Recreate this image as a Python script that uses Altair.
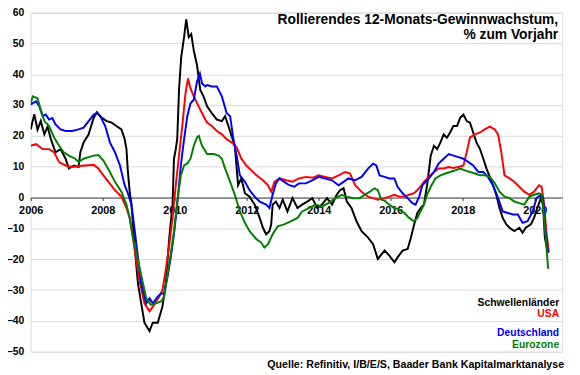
import altair as alt
import pandas as pd

FONT = "Liberation Sans"

series_names = ["Schwellenländer", "USA", "Deutschland", "Eurozone"]
series_colors = ["#000000", "#ff0000", "#0000ff", "#008000"]

em_years = [2006.00, 2006.10, 2006.19, 2006.28, 2006.38, 2006.47, 2006.56, 2006.69, 2006.83, 2006.97,
            2007.06, 2007.20, 2007.33, 2007.38, 2007.47, 2007.61, 2007.75, 2007.84, 2007.97, 2008.11,
            2008.25, 2008.38, 2008.52, 2008.61, 2008.66, 2008.70, 2008.75, 2008.80, 2008.84, 2008.89,
            2008.93, 2008.98, 2009.07, 2009.16, 2009.30, 2009.39, 2009.53, 2009.66, 2009.75, 2009.85,
            2009.94, 2009.98, 2010.03, 2010.07, 2010.12, 2010.18, 2010.26, 2010.32, 2010.39, 2010.46,
            2010.53, 2010.62, 2010.71, 2010.80,
            2010.90, 2011.03, 2011.17, 2011.31, 2011.40, 2011.49, 2011.58, 2011.67, 2011.76, 2011.85,
            2011.95, 2012.08, 2012.22, 2012.36, 2012.45, 2012.54, 2012.63, 2012.68, 2012.72, 2012.81,
            2012.91, 2013.00, 2013.13, 2013.27, 2013.41, 2013.54, 2013.68, 2013.82, 2013.96, 2014.09,
            2014.23, 2014.37, 2014.50, 2014.59, 2014.69, 2014.78, 2014.91, 2015.05, 2015.19, 2015.37,
            2015.51, 2015.64,
            2015.83, 2015.96, 2016.10, 2016.19, 2016.33, 2016.47, 2016.56, 2016.65, 2016.74, 2016.83,
            2016.92, 2017.01, 2017.11, 2017.20, 2017.29, 2017.38, 2017.47, 2017.56, 2017.65, 2017.74,
            2017.84, 2017.93, 2018.02, 2018.11, 2018.20, 2018.29, 2018.38, 2018.48, 2018.57, 2018.66,
            2018.75, 2018.84, 2018.93, 2019.02, 2019.11, 2019.21, 2019.30, 2019.43, 2019.57, 2019.66,
            2019.75, 2019.89, 2019.98, 2020.07, 2020.17, 2020.23, 2020.28, 2020.35, 2020.39]
em_values = [22.1, 27.0, 22.0, 24.8, 20.5, 23.0, 19.0, 14.7, 15.7, 12.6,
             9.4, 10.4, 9.9, 14.7, 17.9, 20.5, 25.9, 27.7, 25.9, 24.8,
             24.3, 23.2, 22.1, 19.0, 15.7, 8.3, 1.9, -2.3, -8.7, -16.2,
             -21.5, -27.9, -34.3, -40.6, -43.3, -40.6, -40.6, -35.3, -27.9, -13.0,
             -2.3, 12.6, 15.7, 19.0, 34.9, 45.5, 52.0, 57.8, 52.0, 53.0,
             47.7, 42.9, 34.9, 32.8,
             29.6, 27.4, 25.3, 24.8, 26.4, 23.2, 20.0, 16.8, 4.0, 6.2,
             1.4, 0.3, -2.3, -6.6, -9.8, -11.9, -10.9, -8.7, -2.3, -1.3,
             -3.4, -0.7, -4.5, -0.2, -3.4, -2.3, -1.3, -0.2, -3.4, -2.3,
             -0.2, -2.3, 0.9, 2.4, 3.0, -1.3, -3.4, -7.7, -10.9, -13.0,
             -15.1, -19.9,
             -17.2, -18.8, -21.0, -19.4, -17.2, -16.7, -13.0, -8.7, -5.0, -3.4,
             -2.3, 4.0, 13.6, 16.8, 15.7, 17.9, 20.5, 19.4, 21.1, 23.2,
             23.2, 25.9, 26.9, 24.8, 24.3, 21.1, 17.9, 15.7, 12.6, 9.4,
             6.7, 4.0, 0.9, -3.4, -6.6, -8.7, -9.8, -10.9, -9.8, -11.4,
             -9.8, -8.7, -6.6, -3.4, -0.2, -2.3, -13.0, -17.2, -17.8]

us_years = [2006.00, 2006.15, 2006.33, 2006.51, 2006.65, 2006.79, 2006.97, 2007.15, 2007.33, 2007.52,
            2007.75, 2007.88, 2008.02, 2008.16, 2008.34, 2008.52, 2008.66, 2008.75, 2008.84, 2008.93,
            2009.02, 2009.16, 2009.30, 2009.43, 2009.57, 2009.66, 2009.75, 2009.85, 2009.94, 2010.03,
            2010.12, 2010.21, 2010.30, 2010.37, 2010.44, 2010.53, 2010.62, 2010.71, 2010.85,
            2010.90, 2011.03, 2011.17, 2011.31, 2011.44, 2011.58, 2011.72, 2011.85, 2011.99, 2012.13,
            2012.27, 2012.45, 2012.59, 2012.68, 2012.77, 2012.91, 2013.09, 2013.27, 2013.45, 2013.64,
            2013.82, 2014.00, 2014.18, 2014.37, 2014.55, 2014.73, 2014.87, 2015.01, 2015.19, 2015.37,
            2015.51, 2015.64,
            2015.83, 2015.96, 2016.10, 2016.24, 2016.38, 2016.51, 2016.65, 2016.79, 2016.92, 2017.06,
            2017.20, 2017.33, 2017.47, 2017.61, 2017.74, 2017.88, 2018.02, 2018.11, 2018.20, 2018.34,
            2018.48, 2018.61, 2018.75, 2018.89, 2018.98, 2019.07, 2019.16, 2019.30, 2019.43, 2019.57,
            2019.71, 2019.85, 2019.98, 2020.12, 2020.19, 2020.26, 2020.32, 2020.39]
us_values = [16.8, 17.3, 15.7, 15.7, 14.7, 11.5, 10.4, 9.9, 10.2, 10.4,
             10.6, 9.4, 7.2, 5.1, 2.4, 0.3, -3.4, -6.6, -13.0, -20.4,
             -26.8, -34.3, -36.9, -34.8, -32.1, -30.0, -23.6, -15.1, -6.6, 4.0,
             13.6, 23.2, 33.8, 38.6, 35.4, 32.8, 30.6, 28.5, 25.3,
             24.3, 23.2, 21.6, 20.5, 18.9, 17.9, 16.3, 12.6, 10.4, 8.8,
             7.2, 5.6, 4.0, 1.9, 5.1, 6.2, 5.6, 5.1, 6.2, 6.7,
             6.4, 7.2, 6.7, 6.2, 7.2, 8.3, 7.8, 4.0, 1.9, 0.3,
             -0.2, -0.7,
             -0.2, 0.3, 0.9, 0.3, 0.3, 0.9, 1.4, 3.0, 5.1, 6.7,
             8.3, 9.4, 9.4, 9.9, 9.6, 9.9, 10.4, 14.7, 19.5, 20.5,
             21.1, 22.1, 23.0, 22.1, 20.5, 14.7, 7.2, 6.2, 5.1, 3.5,
             1.9, 0.9, 1.9, 4.0, 3.5, -2.3, -10.9, -17.8]

de_years = [2006.00, 2006.06, 2006.15, 2006.24, 2006.33, 2006.42, 2006.51, 2006.60, 2006.69, 2006.83,
            2006.97, 2007.15, 2007.33, 2007.47, 2007.61, 2007.75, 2007.84, 2007.93, 2008.07, 2008.20,
            2008.34, 2008.48, 2008.61, 2008.70, 2008.80, 2008.89, 2008.98, 2009.07, 2009.21, 2009.30,
            2009.39, 2009.53, 2009.62, 2009.71, 2009.80, 2009.89, 2009.98, 2010.07, 2010.17, 2010.26,
            2010.35, 2010.44, 2010.53, 2010.62, 2010.70, 2010.76, 2010.85,
            2010.90, 2011.03, 2011.17, 2011.31, 2011.44, 2011.54, 2011.63, 2011.72, 2011.81, 2011.95,
            2012.08, 2012.22, 2012.36, 2012.54, 2012.63, 2012.72, 2012.81, 2012.91, 2013.04, 2013.18,
            2013.32, 2013.45, 2013.64, 2013.82, 2014.00, 2014.18, 2014.37, 2014.55, 2014.69, 2014.82,
            2015.01, 2015.19, 2015.37, 2015.51, 2015.60, 2015.69,
            2015.83, 2015.96, 2016.10, 2016.19, 2016.33, 2016.47, 2016.60, 2016.69, 2016.79, 2016.88,
            2016.97, 2017.06, 2017.20, 2017.33, 2017.47, 2017.61, 2017.74, 2017.88, 2018.02, 2018.16,
            2018.29, 2018.43, 2018.57, 2018.70, 2018.84, 2018.98, 2019.11, 2019.25, 2019.39, 2019.53,
            2019.66, 2019.80, 2019.94, 2020.05, 2020.17, 2020.23, 2020.30, 2020.37]
de_values = [30.1, 30.6, 31.2, 29.6, 26.4, 26.9, 25.3, 25.8, 23.7, 22.1,
             21.6, 21.6, 22.1, 22.7, 24.8, 26.9, 27.4, 26.4, 23.2, 17.9,
             14.7, 10.4, 4.0, 1.4, -2.3, -10.9, -19.4, -27.9, -34.3, -32.7,
             -34.3, -32.1, -31.1, -31.1, -25.7, -19.4, -11.9, -2.3, 10.4, 18.9,
             26.4, 30.6, 31.7, 37.6, 40.2, 37.0, 36.0,
             36.5, 36.0, 36.0, 32.8, 27.4, 26.4, 18.9, 13.6, 7.2, 5.1,
             2.4, 0.3, -1.3, -2.3, -3.4, 0.9, 4.6, 6.2, 5.1, 4.0,
             3.5, 4.6, 4.6, 5.6, 6.7, 6.2, 5.6, 4.0, 5.1, 6.2,
             5.6, 6.7, 9.4, 11.0, 10.4, 7.2,
             6.7, 6.2, 6.2, 3.5, 1.4, -0.2, -1.8, -2.3, 0.3, 4.0,
             5.1, 6.2, 8.3, 11.0, 12.6, 14.1, 13.6, 13.1, 12.6, 11.5,
             10.4, 8.3, 8.3, 6.7, 4.0, -0.2, -4.5, -5.0, -5.5, -5.5,
             -8.2, -7.7, -4.5, -0.2, 0.9, -0.2, -10.9, -17.8]

ez_years = [2006.00, 2006.06, 2006.19, 2006.28, 2006.38, 2006.51, 2006.65, 2006.79, 2006.92, 2007.06,
            2007.24, 2007.33, 2007.47, 2007.61, 2007.75, 2007.88, 2008.02, 2008.20, 2008.34, 2008.52,
            2008.66, 2008.75, 2008.84, 2008.98, 2009.12, 2009.21, 2009.34, 2009.48, 2009.62, 2009.71,
            2009.80, 2009.89, 2009.98, 2010.07, 2010.17, 2010.26, 2010.35, 2010.44, 2010.53, 2010.62,
            2010.67, 2010.76,
            2010.90, 2011.08, 2011.22, 2011.31, 2011.40, 2011.54, 2011.67, 2011.81, 2011.95, 2012.08,
            2012.27, 2012.40, 2012.49, 2012.59, 2012.72, 2012.86, 2013.04, 2013.22, 2013.41, 2013.54,
            2013.73, 2013.91, 2014.09, 2014.27, 2014.46, 2014.64, 2014.78, 2014.96, 2015.14, 2015.28,
            2015.42, 2015.55, 2015.64, 2015.74,
            2015.83, 2015.96, 2016.10, 2016.24, 2016.38, 2016.51, 2016.65, 2016.74, 2016.83, 2016.92,
            2017.01, 2017.11, 2017.24, 2017.38, 2017.52, 2017.65, 2017.79, 2017.93, 2018.06, 2018.20,
            2018.34, 2018.48, 2018.61, 2018.75, 2018.89, 2019.02, 2019.16, 2019.30, 2019.43, 2019.57,
            2019.71, 2019.85, 2019.98, 2020.12, 2020.19, 2020.26, 2020.32, 2020.37]
ez_values = [30.6, 32.8, 32.2, 28.5, 24.8, 23.2, 19.5, 16.8, 14.7, 13.6,
             12.6, 11.5, 12.6, 13.1, 13.6, 13.8, 12.0, 8.3, 5.1, 1.9,
             -2.3, -6.6, -13.0, -20.4, -27.9, -32.7, -34.8, -34.3, -33.7, -32.1,
             -24.6, -18.3, -10.9, -1.3, 7.2, 10.4, 11.0, 12.6, 16.8, 19.5,
             20.0, 16.8,
             14.1, 14.1, 13.6, 12.6, 9.4, 5.1, 0.9, -4.5, -8.2, -10.9,
             -13.5, -14.6, -16.2, -15.1, -11.9, -9.3, -8.7, -7.7, -6.6, -4.5,
             -3.4, -2.3, -2.9, -1.8, -0.2, 0.9, 0.3, -0.2, -0.2, 0.9,
             1.9, 3.0, 2.4, -0.7,
             -1.0, -2.3, -3.4, -3.9, -5.0, -6.6, -7.7, -6.6, -4.5, -2.3,
             0.9, 3.5, 6.2, 7.2, 7.8, 8.3, 8.8, 9.4, 8.8, 8.3,
             7.8, 7.2, 7.2, 6.7, 4.6, 1.9, 0.3, -0.2, -1.3, -1.8,
             -2.3, 0.3, 0.9, 1.4, 0.9, -6.6, -15.1, -23.1]

x_ticks = [2006, 2008, 2010, 2012, 2014, 2016, 2018, 2020]
y_ticks = [-50, -40, -30, -20, -10, 0, 10, 20, 30, 40, 50, 60]
x_domain = [2006, 2020.76]
y_domain = [-50, 60]

title_lines = ["Rollierendes 12-Monats-Gewinnwachstum,", "% zum Vorjahr"]
source_text = "Quelle: Refinitiv, I/B/E/S, Baader Bank Kapitalmarktanalyse"

W, H = 539, 344
zero_offset = -(0 - y_domain[0]) / (y_domain[1] - y_domain[0]) * H

series_data = [
    (em_years, em_values),
    (us_years, us_values),
    (de_years, de_values),
    (ez_years, ez_values),
]

x_enc = alt.X("year:Q",
              scale=alt.Scale(domain=x_domain, nice=False, zero=False),
              axis=alt.Axis(values=x_ticks, format="d", title=None, grid=False,
                            offset=zero_offset, domainColor="#404040", domainWidth=1,
                            tickColor="#404040", tickSize=3, labelPadding=4,
                            labelFont=FONT, labelFontSize=11, labelFontWeight="bold",
                            labelColor="#000000", labelFlush=False))
y_enc = alt.Y("value:Q",
              scale=alt.Scale(domain=y_domain, nice=False, zero=False),
              axis=alt.Axis(values=y_ticks, title=None, grid=True, gridColor="#d9d9d9",
                            gridWidth=1, domain=False, ticks=False, labelPadding=7,
                            labelFont=FONT, labelFontSize=10.5, labelFontWeight="bold",
                            labelColor="#000000"))

layers = []
for (yrs, vals), name, col in zip(series_data, series_names, series_colors):
    df = pd.DataFrame({"year": yrs, "value": vals, "series": name})
    layers.append(
        alt.Chart(df).mark_line(color=col, strokeWidth=2, clip=True).encode(x=x_enc, y=y_enc)
    )

one = pd.DataFrame({"a": [0]})

def label(text, x, y, color="#000000", size=11):
    return alt.Chart(one).mark_text(
        text=text, align="right", baseline="alphabetic", font=FONT,
        fontSize=size, fontWeight="bold", color=color
    ).encode(x=alt.value(x), y=alt.value(y))

layers.append(label(title_lines[0], 535, 12, size=14))
layers.append(label(title_lines[1], 535, 26.5, size=14))

legend_y = [298, 309, 328, 340]
for name, col, ly in zip(series_names, series_colors, legend_y):
    layers.append(label(name, 536, ly, color=col, size=10.5))

layers.append(label(source_text, 541, 361, size=10.8))

chart = alt.layer(*layers).properties(
    width=W, height=H,
    autosize=alt.AutoSizeParams(type="none"),
    padding={"left": 23, "top": 2, "right": 10, "bottom": 21},
).configure_view(stroke="#808080", strokeWidth=1).configure(background="white")

chart.save("out.html", embed_options={"renderer": "svg", "actions": False})
